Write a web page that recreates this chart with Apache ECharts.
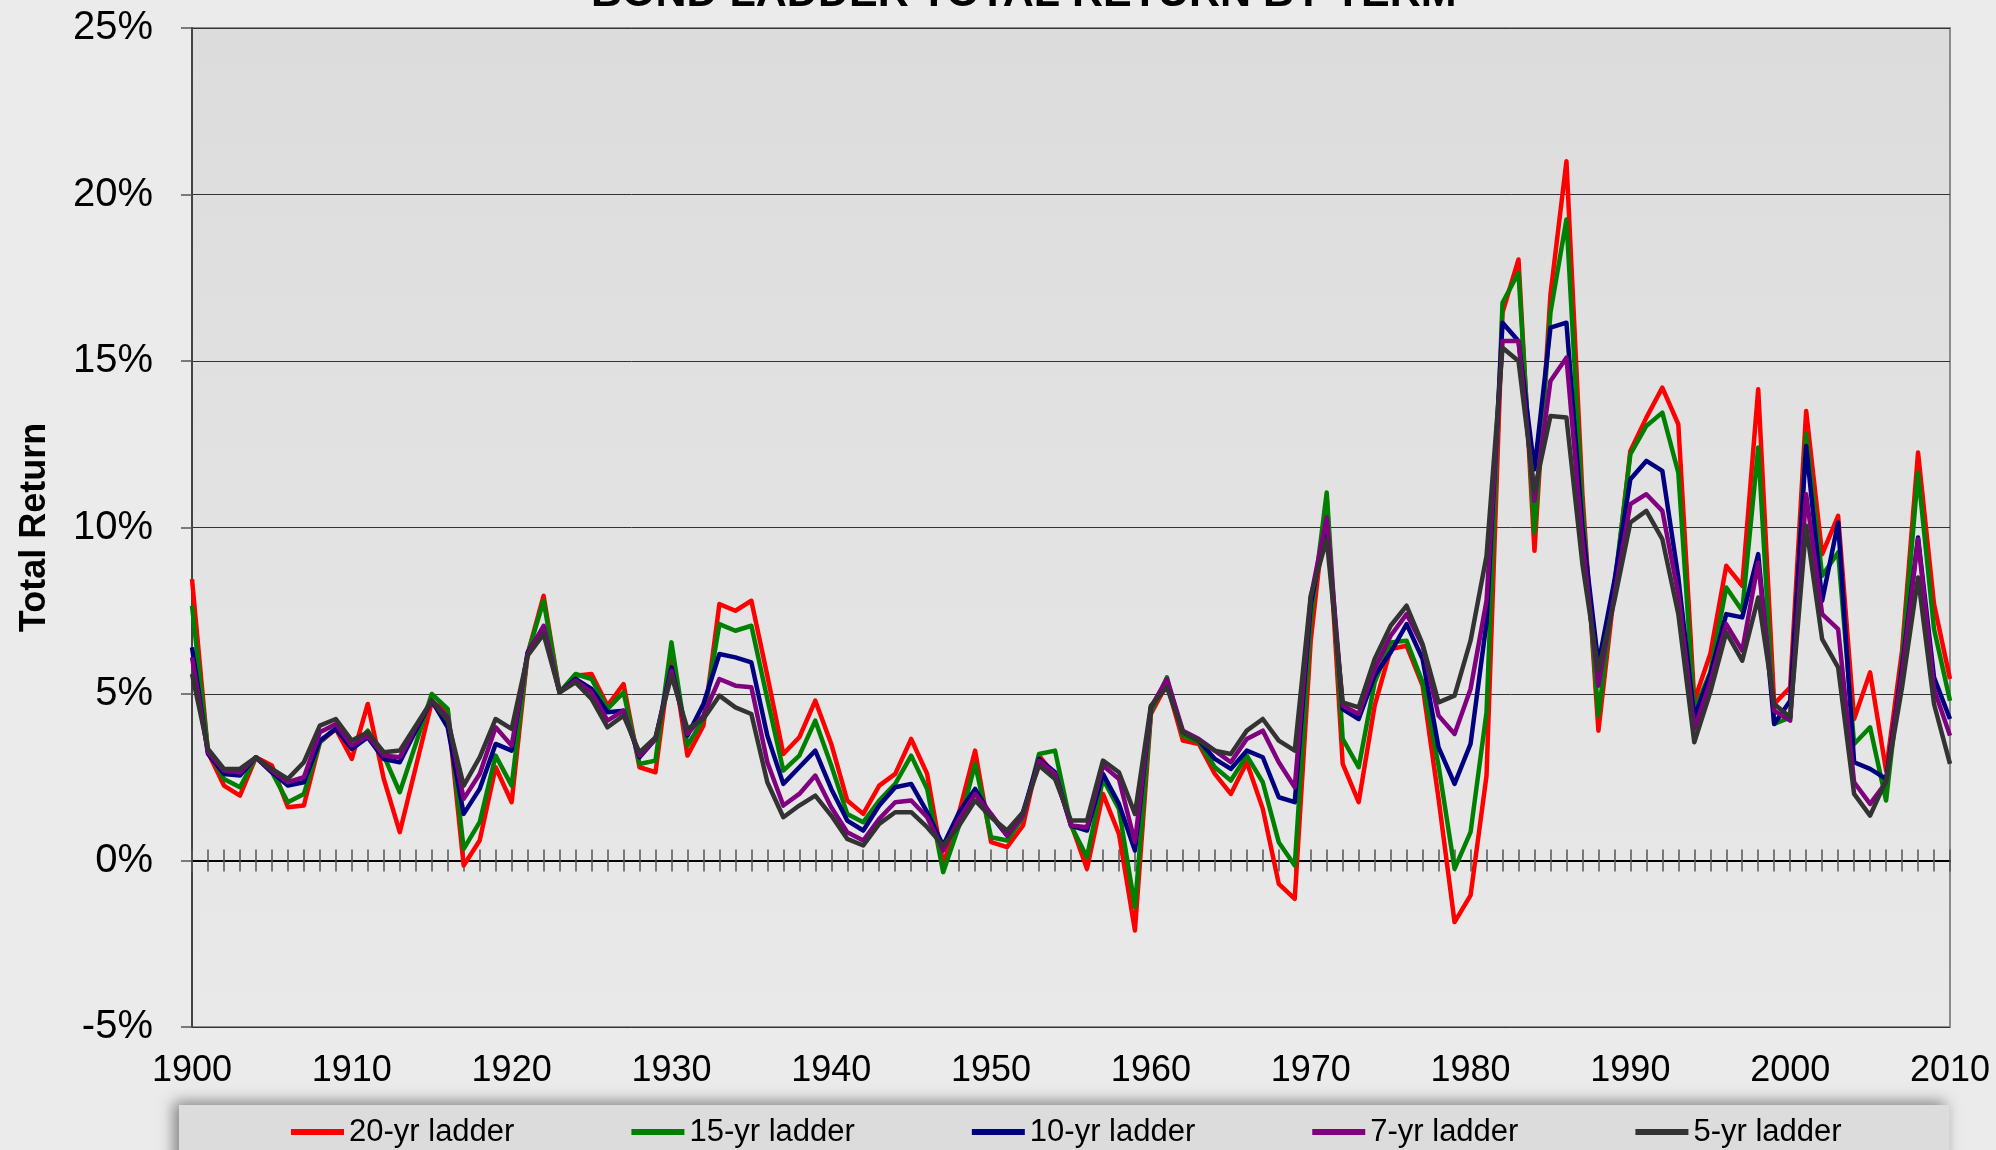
<!DOCTYPE html>
<html>
<head>
<meta charset="utf-8">
<title>Bond Ladder Total Return by Term</title>
<script src="https://cdn.jsdelivr.net/npm/echarts@6/dist/echarts.min.js"></script>
<style>
  html, body { margin: 0; padding: 0; background: #ebebeb; }
  #chart { width: 1996px; height: 1150px; }
</style>
</head>
<body>
<div id="chart"></div>
<script>
// years 1900..2010
const years = []
for (let y = 1900; y <= 2010; y++) years.push(String(y))

const seriesNames = ['20-yr ladder', '15-yr ladder', '10-yr ladder', '7-yr ladder', '5-yr ladder']
const seriesColors = ['#ff0000', '#008000', '#000080', '#800080', '#333333']

const ladder20 = [
  8.45, 3.25, 2.25, 1.95, 3.1, 2.85, 1.6, 1.65, 3.55, 3.95,
  3.05, 4.7, 2.45, 0.85, 2.8, 4.75, 4.5, -0.15, 0.6, 2.8,
  1.75, 6.2, 7.95, 5.05, 5.55, 5.6, 4.65, 5.3, 2.8, 2.65,
  6.3, 3.15, 4.05, 7.7, 7.5, 7.8, 5.55, 3.2, 3.7, 4.8,
  3.5, 1.8, 1.4, 2.25, 2.6, 3.65, 2.6, -0.15, 1.45, 3.3,
  0.55, 0.4, 1.05, 3.15, 2.55, 1.1, -0.25, 2.0, 0.8, -2.1,
  4.4, 5.3, 3.6, 3.5, 2.6, 2.0, 2.95, 1.55, -0.7, -1.15,
  6.6, 10.9, 2.9, 1.75, 4.65, 6.35, 6.45, 5.25, 1.85, -1.85,
  -1.05, 2.55, 16.45, 18.05, 9.3, 17.0, 21.0, 11.0, 3.9, 8.1,
  12.3, 13.3, 14.2, 13.1, 4.8, 6.2, 8.85, 8.25, 14.15, 4.7,
  5.2, 13.5, 9.2, 10.35, 4.25, 5.65, 2.7, 6.3, 12.25, 7.7,
  5.45
]
const ladder15 = [
  7.65, 3.3, 2.45, 2.2, 3.1, 2.65, 1.75, 2.0, 3.55, 4.0,
  3.35, 3.9, 3.15, 2.05, 3.5, 5.0, 4.55, 0.35, 1.15, 3.15,
  2.25, 6.2, 7.8, 5.05, 5.6, 5.45, 4.55, 5.05, 2.9, 3.0,
  6.55, 3.45, 4.25, 7.1, 6.9, 7.05, 4.85, 2.7, 3.15, 4.2,
  2.85, 1.4, 1.15, 1.8, 2.3, 3.15, 2.15, -0.35, 1.05, 2.9,
  0.7, 0.6, 1.3, 3.2, 3.3, 1.05, 0.1, 2.45, 1.55, -1.4,
  4.45, 5.5, 3.75, 3.55, 2.8, 2.4, 3.15, 2.35, 0.55, -0.15,
  7.2, 11.05, 3.65, 2.8, 5.35, 6.55, 6.6, 5.35, 2.85, -0.25,
  0.85, 4.45, 16.75, 17.65, 9.85, 16.45, 19.25, 10.6, 4.35, 8.25,
  12.2, 13.05, 13.45, 11.65, 4.5, 5.65, 8.2, 7.5, 12.4, 4.1,
  4.3, 12.8, 8.55, 9.25, 3.5, 4.0, 1.8, 6.0, 11.65, 6.95,
  4.8
]
const ladder10 = [
  6.4, 3.2, 2.6, 2.55, 3.1, 2.65, 2.25, 2.35, 3.6, 3.95,
  3.35, 3.7, 3.05, 2.95, 3.9, 4.8, 4.0, 1.4, 2.15, 3.5,
  3.3, 6.25, 7.0, 5.05, 5.45, 5.15, 4.45, 4.5, 3.1, 3.65,
  5.8, 3.75, 4.7, 6.2, 6.1, 5.95, 3.75, 2.3, 2.8, 3.3,
  2.15, 1.2, 0.9, 1.65, 2.2, 2.3, 1.45, 0.45, 1.45, 2.15,
  1.35, 0.75, 1.45, 3.05, 2.65, 1.05, 0.9, 2.6, 1.7, 0.3,
  4.6, 5.4, 3.85, 3.6, 3.05, 2.75, 3.3, 3.1, 1.9, 1.75,
  7.7, 10.1, 4.55, 4.25, 5.55, 6.25, 7.1, 6.05, 3.4, 2.3,
  3.5, 7.15, 16.15, 15.6, 11.75, 16.0, 16.15, 10.0, 5.9, 8.4,
  11.45, 12.0, 11.7, 8.5, 4.3, 5.6, 7.4, 7.3, 9.2, 4.1,
  4.8, 12.45, 7.8, 10.15, 2.95, 2.75, 2.45, 5.8, 9.7, 5.5,
  4.25
]
const ladder7 = [
  6.1, 3.25, 2.7, 2.65, 3.1, 2.7, 2.35, 2.5, 3.85, 4.1,
  3.45, 3.75, 3.15, 3.1, 4.0, 4.8, 4.3, 1.85, 2.6, 4.0,
  3.45, 6.2, 7.05, 5.05, 5.4, 5.05, 4.2, 4.5, 3.15, 3.65,
  5.7, 3.8, 4.35, 5.45, 5.25, 5.2, 2.95, 1.65, 2.0, 2.55,
  1.6, 0.85, 0.6, 1.25, 1.75, 1.8, 1.3, 0.3, 1.25, 2.0,
  1.4, 0.75, 1.35, 3.0, 2.6, 1.05, 1.0, 2.85, 2.45, 0.55,
  4.6, 5.45, 3.9, 3.65, 3.3, 2.95, 3.65, 3.9, 2.95, 2.2,
  7.9, 10.3, 4.65, 4.4, 5.75, 6.75, 7.4, 6.45, 4.35, 3.8,
  5.15, 7.8, 15.6, 15.6, 10.8, 14.4, 15.1, 9.6, 5.25, 7.95,
  10.7, 11.0, 10.5, 8.0, 3.95, 5.35, 7.1, 6.3, 8.95, 4.5,
  4.2, 11.0, 7.4, 6.95, 2.35, 1.7, 2.35, 5.6, 9.65, 5.15,
  3.75
]
const ladder5 = [
  5.6, 3.35, 2.75, 2.75, 3.1, 2.75, 2.45, 2.95, 4.05, 4.25,
  3.6, 3.85, 3.25, 3.3, 4.05, 4.8, 4.2, 2.25, 3.1, 4.25,
  3.95, 6.15, 6.8, 5.05, 5.35, 4.85, 4.0, 4.35, 3.25, 3.7,
  5.55, 3.95, 4.25, 4.95, 4.6, 4.4, 2.35, 1.3, 1.65, 1.95,
  1.35, 0.65, 0.45, 1.1, 1.45, 1.45, 1.0, 0.45, 1.05, 1.8,
  1.3, 0.9, 1.45, 2.85, 2.45, 1.2, 1.2, 3.0, 2.65, 1.4,
  4.65, 5.2, 3.85, 3.6, 3.3, 3.2, 3.9, 4.25, 3.6, 3.3,
  7.95, 9.65, 4.75, 4.6, 6.05, 7.05, 7.65, 6.5, 4.75, 4.95,
  6.6, 9.15, 15.4, 15.0, 11.1, 13.35, 13.3, 8.9, 5.7, 7.8,
  10.15, 10.5, 9.65, 7.4, 3.55, 5.05, 6.85, 6.0, 7.9, 4.7,
  4.3, 10.05, 6.65, 5.8, 2.0, 1.35, 2.4, 5.2, 8.5, 4.7,
  2.9
]
const seriesValues = [ladder20, ladder15, ladder10, ladder7, ladder5]

const yTicks = { min: -5, max: 25, step: 5 }
const font = "'Liberation Sans', Arial, sans-serif"

const chart = echarts.init(document.getElementById('chart'))

// the zero line with year ticks crossing it: one axis ticks down, one ticks up
function zeroAxis(position) {
  return {
    type: 'category',
    data: years,
    boundaryGap: false,
    position: position,
    axisLine: { show: true, onZero: true, onZeroAxisIndex: 0, lineStyle: { color: '#000', width: 2 } },
    axisTick: { show: true, interval: 0, length: 11, lineStyle: { color: '#555', width: 1.5 } },
    axisLabel: { show: false },
    splitLine: { show: false }
  }
}

chart.setOption({
  backgroundColor: '#ebebeb',
  animation: false,
  title: {
    text: 'BOND LADDER TOTAL RETURN BY TERM',
    left: 591,
    top: -27,
    padding: 0,
    textStyle: { fontFamily: font, fontSize: 43, fontWeight: 'bold', color: '#000' }
  },
  grid: {
    left: 192,
    right: 46,
    top: 28,
    bottom: 123,
    containLabel: false,
    outerBoundsMode: 'none',
    show: true,
    borderColor: '#8c8c8c',
    borderWidth: 2,
    backgroundColor: {
      type: 'linear', x: 0, y: 0, x2: 0, y2: 1,
      colorStops: [{ offset: 0, color: '#dcdcdc' }, { offset: 1, color: '#e9e9e9' }]
    }
  },
  legend: {
    data: seriesNames,
    left: 179,
    top: 1105,
    padding: [11, 108, 40, 112],
    itemGap: 117,
    itemWidth: 53,
    itemHeight: 6,
    icon: 'rect',
    backgroundColor: '#dcdcdc',
    shadowBlur: 14,
    shadowColor: 'rgba(0,0,0,0.45)',
    shadowOffsetX: -5,
    shadowOffsetY: -3,
    textStyle: { fontFamily: font, fontSize: 31, color: '#000', lineHeight: 32 }
  },
  xAxis: [
    {
      type: 'category',
      data: years,
      boundaryGap: false,
      position: 'bottom',
      axisLine: { show: false, onZero: false },
      axisTick: { show: false },
      axisLabel: { interval: 9, margin: 26, fontFamily: font, fontSize: 36, color: '#000' },
      splitLine: { show: false }
    },
    zeroAxis('bottom'),
    zeroAxis('top')
  ],
  yAxis: {
    type: 'value',
    min: yTicks.min,
    max: yTicks.max,
    interval: yTicks.step,
    name: 'Total Return',
    nameLocation: 'middle',
    nameGap: 139,
    nameRotate: 90,
    nameTextStyle: { fontFamily: font, fontSize: 36, fontWeight: 'bold', color: '#000' },
    axisLine: { show: true, lineStyle: { color: '#444', width: 2 } },
    axisTick: { show: true, length: 11, lineStyle: { color: '#555', width: 1.5 } },
    axisLabel: { margin: 39, fontFamily: font, fontSize: 40, color: '#000', formatter: '{value}%' },
    splitLine: { show: true, lineStyle: { color: '#333', width: 1 } }
  },
  series: seriesNames.map((name, i) => ({
    name: name,
    type: 'line',
    xAxisIndex: 0,
    data: seriesValues[i],
    showSymbol: false,
    symbol: 'none',
    color: seriesColors[i],
    lineStyle: { color: seriesColors[i], width: 4.5, join: 'round' }
  }))
})
</script>
</body>
</html>
